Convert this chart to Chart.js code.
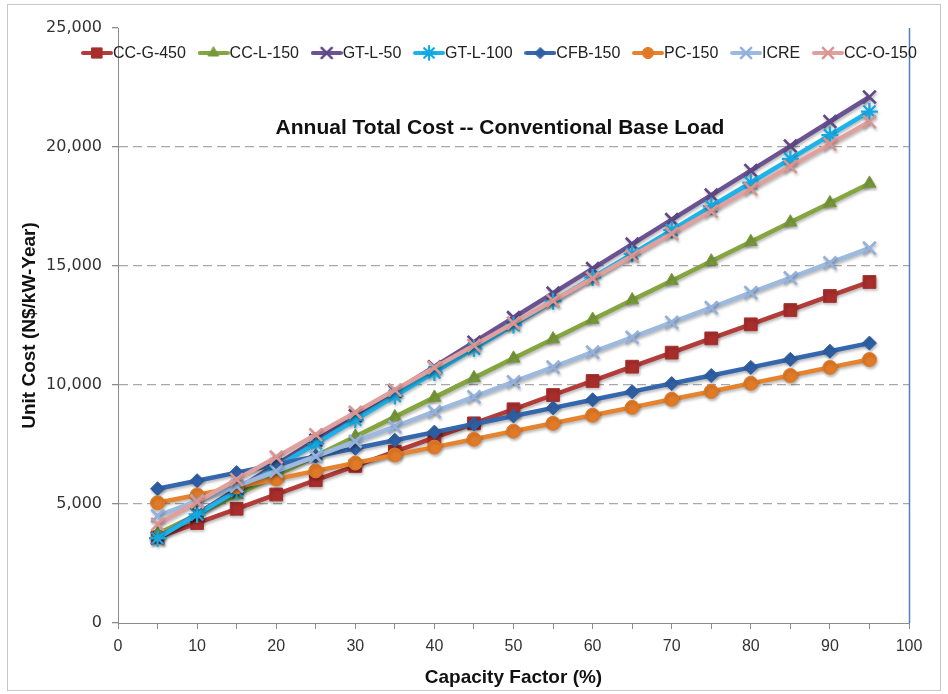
<!DOCTYPE html>
<html>
<head>
<meta charset="utf-8">
<title>Annual Total Cost -- Conventional Base Load</title>
<script src="https://cdn.jsdelivr.net/npm/chart.js@4.4.1/dist/chart.umd.min.js"></script>
<style>
  html, body { margin: 0; padding: 0; background: #ffffff; }
  #wrap { width: 948px; height: 694px; position: relative; }
</style>
</head>
<body>
<div id="wrap"><canvas id="chart" width="948" height="694"></canvas></div>
<script>
// Capacity factor (%) on the x axis
const capacityFactor = [5, 10, 15, 20, 25, 30, 35, 40, 45, 50, 55, 60, 65, 70, 75, 80, 85, 90, 95];

// Unit cost (N$/kW-Year) per technology
const ccG450 = [3600, 4200, 4800, 5400, 6000, 6600, 7200, 7790, 8390, 8980, 9580, 10170, 10770, 11360, 11960, 12550, 13150, 13740, 14330];
const ccL150 = [3750, 4560, 5380, 6200, 7020, 7840, 8660, 9480, 10300, 11120, 11930, 12750, 13570, 14380, 15200, 16020, 16840, 17650, 18470];
const gtL50 = [3560, 4590, 5620, 6650, 7680, 8710, 9740, 10770, 11800, 12830, 13860, 14890, 15920, 16950, 17980, 19010, 20040, 21070, 22100];
const gtL100 = [3560, 4560, 5550, 6550, 7540, 8540, 9540, 10530, 11530, 12520, 13520, 14520, 15510, 16510, 17510, 18500, 19500, 20500, 21490];
const cfb150 = [5640, 5980, 6320, 6660, 7000, 7340, 7680, 8020, 8360, 8700, 9040, 9380, 9720, 10060, 10400, 10740, 11080, 11420, 11760];
const pc150 = [5050, 5380, 5720, 6050, 6390, 6720, 7060, 7390, 7720, 8060, 8390, 8730, 9060, 9400, 9730, 10070, 10400, 10740, 11070];
const icre = [4500, 5130, 5750, 6380, 7000, 7630, 8250, 8880, 9500, 10130, 10750, 11380, 12000, 12630, 13250, 13880, 14500, 15130, 15750];
const ccO150 = [4150, 5090, 6030, 6970, 7910, 8850, 9790, 10730, 11660, 12600, 13540, 14480, 15420, 16360, 17300, 18240, 19180, 20120, 21060];

const seriesNames = ['CC-G-450', 'CC-L-150', 'GT-L-50', 'GT-L-100', 'CFB-150', 'PC-150', 'ICRE', 'CC-O-150'];
const seriesValues = [ccG450, ccL150, gtL50, gtL100, cfb150, pc150, icre, ccO150];

// Axis ticks
const yTicks = [0, 5000, 10000, 15000, 20000, 25000];
const xTickStep = 5;
const xLabelStep = 10;

const chartTitle = 'Annual Total Cost -- Conventional Base Load';
const xTitle = 'Capacity Factor (%)';
const yTitle = 'Unit Cost (N$/kW-Year)';

// Styling for each series: line colour, marker colour, marker shape
const seriesStyles = [
  { line: '#B23C39', marker: '#A82E2C', shape: 'rect',     radius: 9,   bw: 1 },
  { line: '#84A540', marker: '#77983A', shape: 'triangle', radius: 7.5, bw: 1 },
  { line: '#6B5391', marker: '#5F4787', shape: 'crossRot', radius: 9,   bw: 2.6 },
  { line: '#1DB3EA', marker: '#14A8E2', shape: 'star',     radius: 8.5, bw: 2.3 },
  { line: '#3567AE', marker: '#2F5FA3', shape: 'rectRot',  radius: 7,   bw: 1 },
  { line: '#E5832F', marker: '#E07A27', shape: 'circle',   radius: 7,   bw: 1 },
  { line: '#9DB9DE', marker: '#93B1DA', shape: 'crossRot', radius: 9,   bw: 2.6 },
  { line: '#DFA09E', marker: '#D99593', shape: 'crossRot', radius: 9,   bw: 2.6 }
];

const datasets = seriesNames.map((name, i) => ({
  label: name,
  data: capacityFactor.map((x, j) => ({ x: x, y: seriesValues[i][j] })),
  borderColor: seriesStyles[i].line,
  backgroundColor: seriesStyles[i].marker,
  borderWidth: 4.5,
  tension: 0,
  pointStyle: seriesStyles[i].shape,
  pointRadius: seriesStyles[i].radius,
  pointHoverRadius: seriesStyles[i].radius,
  pointBackgroundColor: seriesStyles[i].marker,
  pointBorderColor: seriesStyles[i].marker,
  pointBorderWidth: seriesStyles[i].bw,
  order: seriesNames.length - i   // later series are painted on top
}));

// Soft drop shadow under the series lines
const shadowPlugin = {
  id: 'lineShadow',
  beforeDatasetsDraw(chart) {
    const ctx = chart.ctx;
    ctx.save();
    ctx.shadowColor = 'rgba(0,0,0,0.28)';
    ctx.shadowBlur = 3;
    ctx.shadowOffsetX = 1;
    ctx.shadowOffsetY = 2;
  },
  afterDatasetsDraw(chart) {
    chart.ctx.restore();
  }
};

// Small line-plus-marker swatch for the legend
function makeSwatch(style) {
  const c = document.createElement('canvas');
  c.width = 32; c.height = 18;
  const g = c.getContext('2d');
  g.strokeStyle = style.line;
  g.lineWidth = 4;
  g.lineCap = 'round';
  g.beginPath();
  g.moveTo(2, 9); g.lineTo(30, 9);
  g.stroke();
  g.fillStyle = style.marker;
  g.strokeStyle = style.marker;
  g.lineWidth = style.bw;
  Chart.helpers.drawPoint(g, { pointStyle: style.shape, radius: style.radius * 0.8, rotation: 0, borderWidth: style.bw }, 16, 9);
  return c;
}

// Legend row, chart title, plot frame and outer border
const decorPlugin = {
  id: 'decor',
  afterDraw(chart) {
    const ctx = chart.ctx;
    const area = chart.chartArea;
    ctx.save();

    // right edge of plot
    ctx.strokeStyle = '#4F81BD';
    ctx.lineWidth = 1.5;
    ctx.beginPath();
    ctx.moveTo(area.right + 0.5, area.top);
    ctx.lineTo(area.right + 0.5, area.bottom);
    ctx.stroke();

    // outer border
    ctx.strokeStyle = '#c8c8c8';
    ctx.lineWidth = 1;
    ctx.strokeRect(7.5, 4.5, chart.width - 15, chart.height - 8);

    // legend
    ctx.font = '16px "Liberation Sans", Arial, sans-serif';
    ctx.textBaseline = 'middle';
    ctx.textAlign = 'left';
    ctx.fillStyle = '#222222';
    let x = 82;
    const y = 53;
    chart.data.datasets.forEach((ds, i) => {
      const sw = makeSwatch(seriesStyles[i]);
      ctx.drawImage(sw, x - 1, y - 9);
      x += 31;
      ctx.fillText(ds.label, x, y + 1);
      x += ctx.measureText(ds.label).width + 12.7;
    });

    // title
    ctx.font = 'bold 21px "Liberation Sans", Arial, sans-serif';
    ctx.textAlign = 'center';
    ctx.fillStyle = '#111111';
    ctx.fillText(chartTitle, 500, 128);
    ctx.restore();
  }
};

const axisGray = '#8c8c8c';

new Chart(document.getElementById('chart'), {
  type: 'line',
  data: { datasets: datasets },
  options: {
    responsive: false,
    animation: false,
    devicePixelRatio: 1,
    layout: { padding: { top: 28, right: 39, left: 0, bottom: 0 } },
    plugins: {
      legend: { display: false },
      title: { display: false },
      tooltip: { enabled: false }
    },
    scales: {
      x: {
        type: 'linear',
        min: 0,
        max: 100,
        afterFit(scale) { scale.height = 71; },
        afterBuildTicks(scale) {
          const t = [];
          for (let v = 0; v <= 100; v += xTickStep) t.push({ value: v });
          scale.ticks = t;
        },
        ticks: {
          autoSkip: false,
          maxRotation: 0,
          padding: 8,
          color: '#333333',
          font: { family: '"Liberation Sans Narrow", "Liberation Sans", Arial, sans-serif', size: 16 },
          callback: (v) => (v % xLabelStep === 0 ? String(v) : '')
        },
        grid: {
          drawOnChartArea: false,
          drawTicks: true,
          tickLength: 6,
          tickColor: axisGray,
          color: axisGray
        },
        border: { display: true, color: axisGray, width: 1 },
        title: {
          display: true,
          text: xTitle,
          color: '#111111',
          font: { family: '"Liberation Sans", Arial, sans-serif', size: 19, weight: 'bold' },
          padding: { top: 0, bottom: 5 }
        }
      },
      y: {
        type: 'linear',
        min: yTicks[0],
        max: yTicks[yTicks.length - 1],
        afterFit(scale) { scale.width = 118; },
        afterBuildTicks(scale) {
          scale.ticks = yTicks.map(v => ({ value: v }));
        },
        ticks: {
          padding: 10,
          color: '#333333',
          font: { family: '"DejaVu Sans", Verdana, sans-serif', size: 16 },
          callback: (v) => Number(v).toLocaleString('en-US')
        },
        grid: {
          drawTicks: true,
          tickLength: 6,
          tickColor: axisGray,
          tickBorderDash: [],
          lineWidth: 1.3,
          color: (ctx) => {
            const v = ctx.tick ? ctx.tick.value : null;
            return (v === yTicks[0] || v === yTicks[yTicks.length - 1]) ? 'rgba(0,0,0,0)' : '#a8a8a8';
          }
        },
        border: { display: true, color: axisGray, width: 1, dash: [9, 5] },
        title: {
          display: true,
          text: yTitle,
          color: '#111111',
          font: { family: '"Liberation Sans", Arial, sans-serif', size: 19, weight: 'bold' },
          padding: { top: 18, bottom: 0 }
        }
      }
    }
  },
  plugins: [shadowPlugin, decorPlugin]
});
</script>
</body>
</html>
